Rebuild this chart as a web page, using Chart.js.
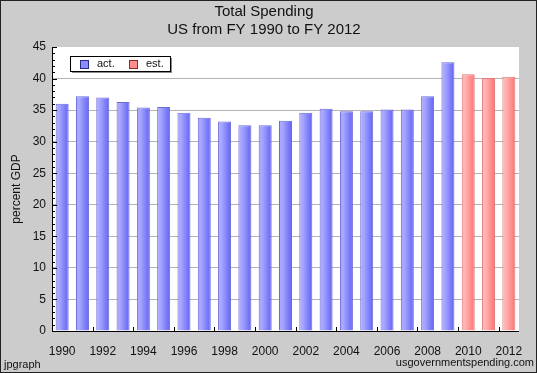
<!DOCTYPE html>
<html lang="en">
<head>
  <meta charset="UTF-8" />
  <title>Total Spending</title>
  <script src="https://cdn.jsdelivr.net/npm/chart.js"></script>
  <style>
    html, body { margin: 0; padding: 0; background: #cccccc; }
    canvas { display: block; }
  </style>
</head>
<body>
  <canvas id="spendChart" width="537" height="373"></canvas>

  <script>
    const years = ['1990', '1991', '1992', '1993', '1994', '1995', '1996', '1997', '1998', '1999', '2000',
                   '2001', '2002', '2003', '2004', '2005', '2006', '2007', '2008', '2009', '2010', '2011', '2012'];
    const actual = [36.0, 37.2, 37.0, 36.3, 35.4, 35.5, 34.6, 33.8, 33.2, 32.6, 32.6,
                    33.3, 34.6, 35.2, 34.8, 34.8, 35.1, 35.1, 37.2, 42.6, null, null, null];
    const estimate = [null, null, null, null, null, null, null, null, null, null, null,
                      null, null, null, null, null, null, null, null, null, 40.7, 40.1, 40.3];
    const seriesNames = ['act.', 'est.'];
    const yMin = 0, yMax = 45, yStep = 5;

    const FONT = '"Liberation Sans", Arial, sans-serif';
    const BAR_PCT = 0.64;

    // horizontal gradient across each bar, like the jpgraph bars
    function barFill(c0, c1) {
      return (ctx) => {
        const chart = ctx.chart;
        const xs = chart.scales && chart.scales.x;
        if (!chart.chartArea || ctx.type !== 'data' || !xs) return c1;
        const center = xs.getPixelForValue(ctx.dataIndex);
        const half = (xs.width / years.length) * BAR_PCT / 2;
        const g = chart.ctx.createLinearGradient(center - half, 0, center + half, 0);
        g.addColorStop(0, c0);
        g.addColorStop(0.25, c0);
        g.addColorStop(1, c1);
        return g;
      };
    }

    const frame = {
      id: 'frame',
      beforeDraw(chart) {
        const { ctx, chartArea: a } = chart;
        ctx.save();
        ctx.fillStyle = '#cccccc';
        ctx.fillRect(0, 0, chart.width, chart.height);
        ctx.fillStyle = '#ffffff';
        ctx.fillRect(a.left, a.top, a.right - a.left, a.bottom - a.top);
        ctx.restore();
      },
      afterDatasetsDraw(chart) {
        const { ctx, chartArea: a, scales } = chart;
        ctx.save();
        ctx.strokeStyle = '#000';
        ctx.lineWidth = 1;
        ctx.beginPath();
        // axis lines
        ctx.moveTo(a.left + 0.5, a.top);
        ctx.lineTo(a.left + 0.5, a.bottom + 0.5);
        ctx.lineTo(a.right, a.bottom + 0.5);
        // y ticks, pointing into the plot
        for (let v = yMin; v <= yMax; v++) {
          const y = Math.round(scales.y.getPixelForValue(v)) + 0.5;
          ctx.moveTo(a.left, y);
          ctx.lineTo(a.left + (v % yStep === 0 ? 5 : 3), y);
        }
        // x ticks between every second pair of bars
        const step = (a.right - a.left) / years.length;
        for (let i = 2; i < years.length; i += 2) {
          const x = Math.round(a.left + i * step) + 0.5;
          ctx.moveTo(x, a.bottom);
          ctx.lineTo(x, a.bottom - 4);
        }
        ctx.stroke();
        ctx.restore();
      },
      afterDraw(chart) {
        const { ctx } = chart;
        ctx.save();

        // legend box
        const lx = 70, ly = 56, lw = 100, lh = 15;
        ctx.fillStyle = '#8c8c8c';
        ctx.fillRect(lx + 2, ly + 2, lw, lh);
        ctx.fillStyle = '#ffffff';
        ctx.fillRect(lx, ly, lw, lh);
        ctx.strokeStyle = '#000';
        ctx.strokeRect(lx + 0.5, ly + 0.5, lw, lh);
        const swatches = [
          { x: 80, fill: '#8c8cff', line: '#2a2a88', text: seriesNames[0] },
          { x: 129, fill: '#ff8f8f', line: '#882a2a', text: seriesNames[1] }
        ];
        ctx.font = '11px ' + FONT;
        ctx.textBaseline = 'middle';
        ctx.textAlign = 'left';
        swatches.forEach(s => {
          ctx.fillStyle = s.fill;
          ctx.fillRect(s.x, ly + 4, 8, 8);
          ctx.strokeStyle = s.line;
          ctx.strokeRect(s.x + 0.5, ly + 4.5, 8, 8);
          ctx.fillStyle = '#111';
          ctx.fillText(s.text, s.x + 17, ly + 8);
        });

        // footer texts
        ctx.fillStyle = '#111';
        ctx.font = '11px ' + FONT;
        ctx.fillText('jpgraph', 4, 365);
        ctx.textAlign = 'right';
        ctx.fillText('usgovernmentspending.com', 534, 363);

        // outer border
        ctx.strokeStyle = '#222';
        ctx.lineWidth = 1;
        ctx.strokeRect(0.5, 0.5, chart.width - 1, chart.height - 1);
        ctx.restore();
      }
    };

    new Chart(document.getElementById('spendChart'), {
      type: 'bar',
      data: {
        labels: years,
        datasets: [{
          label: seriesNames[0],
          data: actual,
          backgroundColor: barFill('#a8a8ff', '#6262f4'),
          borderColor: '#6a6ad8',
          borderWidth: 1
        }, {
          label: seriesNames[1],
          data: estimate,
          backgroundColor: barFill('#ffb4b4', '#ff7272'),
          borderColor: '#e07a7a',
          borderWidth: 1
        }]
      },
      options: {
        responsive: false,
        animation: false,
        events: [],
        grouped: false,
        categoryPercentage: 1,
        barPercentage: BAR_PCT,
        layout: { padding: { left: 9, right: 18, top: 0, bottom: 0 } },
        plugins: {
          legend: { display: false },
          tooltip: { enabled: false },
          title: {
            display: true,
            text: ['Total Spending', 'US from FY 1990 to FY 2012'],
            color: '#111',
            font: { family: FONT, size: 15, weight: 'normal', lineHeight: 1.2 },
            padding: { top: 3, bottom: 8 }
          }
        },
        scales: {
          x: {
            grid: { display: false },
            border: { display: false },
            ticks: {
              autoSkip: false,
              maxRotation: 0,
              padding: 5,
              color: '#111',
              font: { family: FONT, size: 12 },
              callback: (v, i) => (i % 2 === 0 ? years[i] : '')
            },
            afterFit: (s) => { s.height = 42; }
          },
          y: {
            min: yMin,
            max: yMax,
            ticks: {
              stepSize: yStep,
              padding: 6,
              color: '#111',
              font: { family: FONT, size: 12 }
            },
            grid: {
              drawTicks: false,
              color: (c) => (c.tick && (c.tick.value === yMax || c.tick.value === yMin) ? 'rgba(0,0,0,0)' : '#b4b4b4')
            },
            border: { display: false },
            title: {
              display: true,
              text: 'percent GDP',
              color: '#111',
              font: { family: FONT, size: 12 },
              padding: { top: 0, bottom: 0 }
            },
            afterFit: (s) => { s.width = 43; }
          }
        }
      },
      plugins: [frame]
    });
  </script>
</body>
</html>
